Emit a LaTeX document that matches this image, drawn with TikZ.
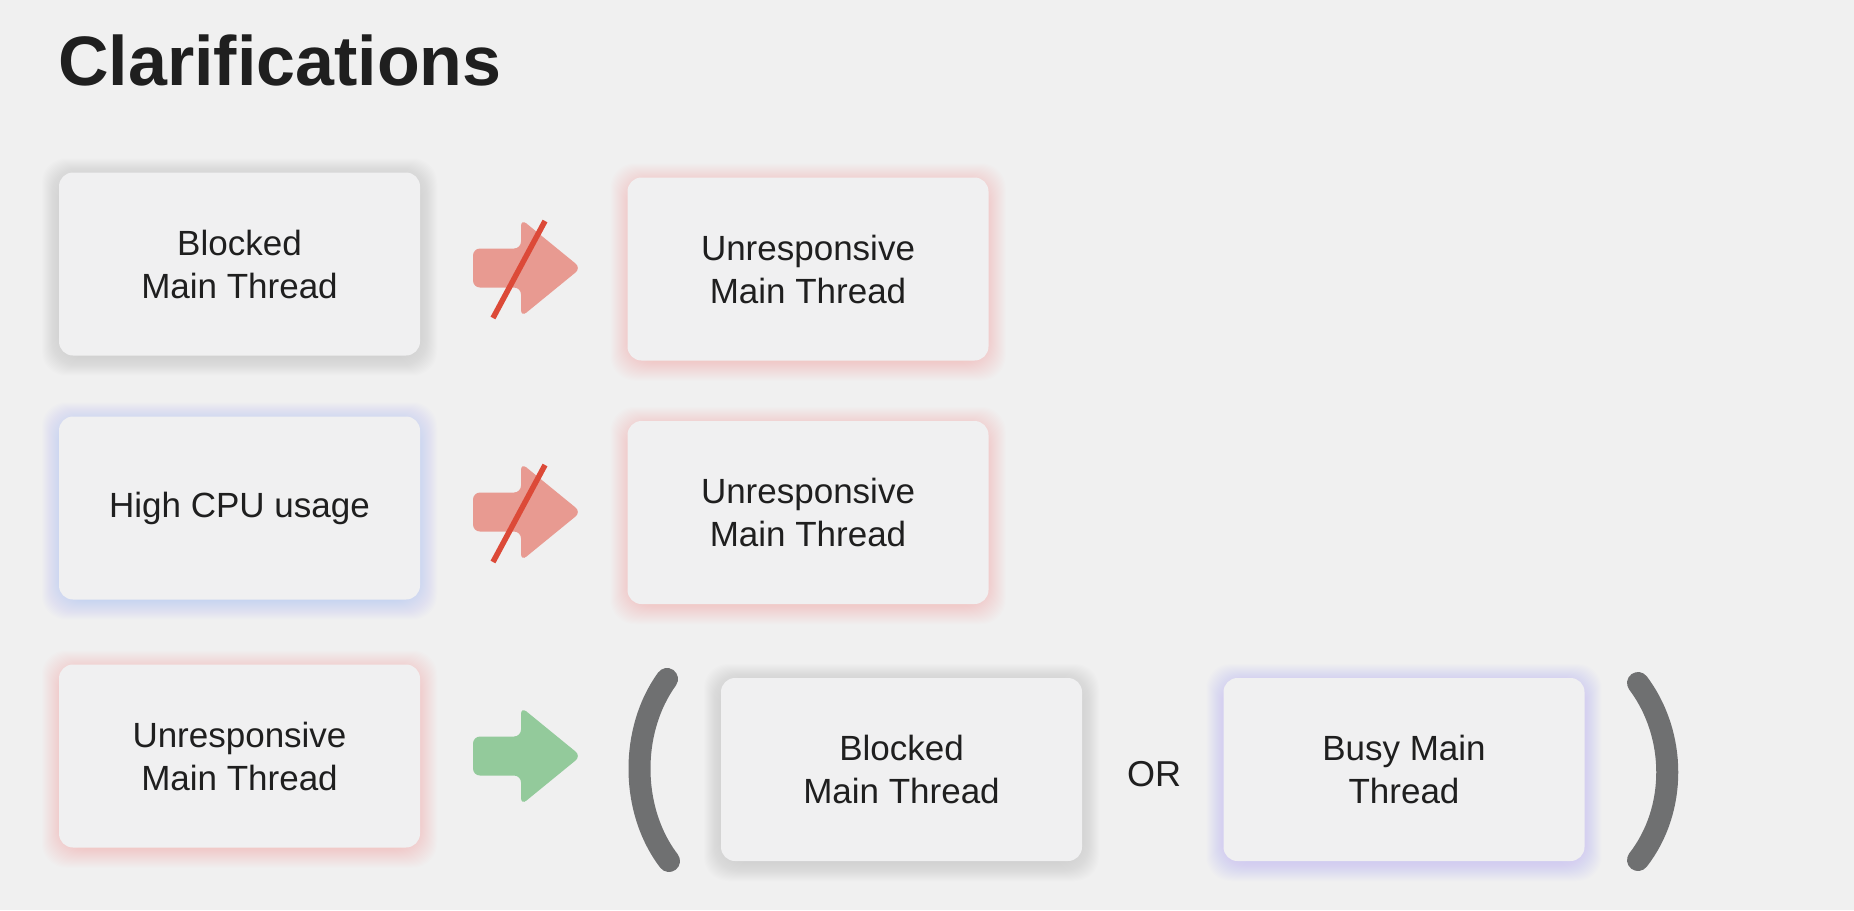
\documentclass[tikz,border=0pt]{standalone}
\usepackage{fontspec}
\setmainfont{Liberation Sans}
\definecolor{bgc}{HTML}{F0F0F0}
\definecolor{boxc}{HTML}{F0F0F1}
\definecolor{textc}{HTML}{1F1F1F}
\definecolor{glowgrey}{HTML}{A8A8A8}
\definecolor{glowblue}{HTML}{8AAEF0}
\definecolor{glowred}{HTML}{F29A90}
\definecolor{glowpurple}{HTML}{A89EF0}
\definecolor{arrred}{HTML}{E89A91}
\definecolor{slashred}{HTML}{DC4A38}
\definecolor{arrgreen}{HTML}{93CA9B}
\definecolor{parc}{HTML}{6F7071}
\tikzset{
  box/.style={fill=boxc, rounded corners=14pt, minimum width=361pt, minimum height=183pt,
    align=center, font=\fontsize{35}{43}\selectfont, text=textc, inner sep=0pt},
  glowlayer/.style={opacity=0.018, rounded corners=24pt},
  fatarr/.style={rounded corners=7pt},
  slash/.style={draw=slashred, line width=5.5pt},
  paren/.style={draw=parc, line width=22pt, line cap=round},
  title/.style={font=\fontsize{70}{84}\selectfont\bfseries, text=textc, inner sep=0pt},
  ortext/.style={font=\fontsize{36}{43}\selectfont, text=textc, inner sep=0pt}
}
\newcommand\gbox[5]{%
  \foreach \i in {0,...,19}{%
    \fill[#4, glowlayer] (#2-178.5-\i, #3-89.5-\i+3) rectangle (#2+178.5+\i, #3+89.5+\i+3);}
  \node[box] (#1) at (#2,#3) {#5};}
\newcommand\fatarrow[3]{%
  \fill[#3, fatarr] (473,#2-19.5) -- (521,#2-19.5) -- (521,#2-49) -- (581,#2) -- (521,#2+49) -- (521,#2+19.5) -- (473,#2+19.5) -- cycle;
  \coordinate (#1) at (525,#2);}
\begin{document}
\begin{tikzpicture}[x=1pt, y=-1pt]
\useasboundingbox (0,0) rectangle (1854,910);
\fill[bgc] (0,0) rectangle (1854,910);
\node[title, anchor=base west] (ttl) at (58,85) {Clarifications};

\gbox{b1l}{239.5}{264}{glowgrey}{Blocked\\Main Thread}
\gbox{b1r}{808}{269}{glowred}{Unresponsive\\Main Thread}
\gbox{b2l}{239.5}{508}{glowblue}{High CPU usage}
\gbox{b2r}{808}{512.5}{glowred}{Unresponsive\\Main Thread}
\gbox{b3l}{239.5}{756}{glowred}{Unresponsive\\Main Thread}
\gbox{b3a}{901.5}{769.5}{glowgrey}{Blocked\\Main Thread}
\gbox{b3b}{1404}{769.5}{glowpurple}{Busy Main\\Thread}

\fatarrow{a1}{268}{arrred}
\coordinate (s1a) at (545,221);
\coordinate (s1b) at (493,318);
\draw[slash] (s1a) -- (s1b);

\fatarrow{a2}{512}{arrred}
\coordinate (s2a) at (545,465);
\coordinate (s2b) at (493,562);
\draw[slash] (s2a) -- (s2b);

\fatarrow{a3}{756}{arrgreen}

\node[ortext] (or) at (1154,774) {OR};

\coordinate (lp1) at (667,679);
\coordinate (lp2) at (669,861);
\draw[paren] (lp1) .. controls (630,730) and (630,810) .. (lp2);
\coordinate (rp1) at (1638,683);
\coordinate (rp2) at (1638,860);
\draw[paren] (rp1) .. controls (1677,735) and (1677,810) .. (rp2);
\end{tikzpicture}
\end{document}
